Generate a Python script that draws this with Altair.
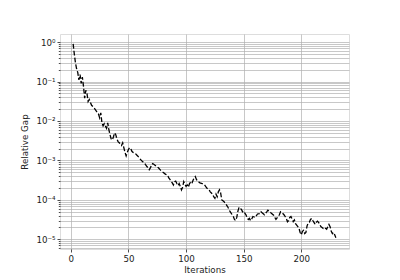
import altair as alt
import pandas as pd

iterations = [2, 3, 4, 5, 6, 7, 8, 9, 10, 11, 12, 13, 14, 15, 16, 18, 20, 22, 24, 25,
              26, 27, 28, 29, 31, 32, 33, 34, 35, 36, 37, 38, 39, 40, 41, 42, 43, 44, 45, 46,
              47, 48, 49, 50, 51, 52, 53, 54, 56, 58, 60, 62, 64, 66, 67, 68, 69, 70, 71, 72,
              74, 76, 78, 80, 82, 84, 85, 86, 87, 88, 89, 90, 91, 92, 93, 94, 95, 96, 97, 98,
              99, 100, 101, 102, 103, 104, 105, 106, 107, 108, 109, 110, 112, 114, 116, 118, 120, 121, 122, 123,
              124, 125, 126, 127, 128, 129, 130, 131, 132, 133, 134, 136, 138, 140, 141, 142, 143, 144, 145, 146,
              147, 148, 149, 150, 151, 152, 153, 154, 155, 156, 157, 158, 160, 162, 164, 165, 166, 168, 170, 171,
              172, 174, 176, 177, 178, 179, 181, 182, 183, 185, 186, 187, 188, 189, 190, 191, 192, 193, 194, 195,
              196, 197, 198, 199, 200, 201, 202, 203, 204, 205, 206, 207, 208, 209, 210, 211, 212, 213, 214, 215,
              216, 217, 218, 219, 220, 221, 222, 223, 224, 225, 226, 227, 228, 229, 230]

relative_gap = [0.9, 0.5, 0.3, 0.21, 0.17, 0.11, 0.15, 0.09, 0.13, 0.075, 0.038, 0.06, 0.05, 0.031, 0.035, 0.025, 0.022, 0.018, 0.015, 0.012,
                0.016, 0.009, 0.0075, 0.0085, 0.0065, 0.009, 0.006, 0.0045, 0.0035, 0.0033, 0.004, 0.005, 0.0045, 0.0035, 0.003, 0.0028, 0.0026, 0.0024, 0.0028, 0.0021,
                0.0016, 0.0013, 0.0016, 0.0019, 0.0021, 0.002, 0.0017, 0.0016, 0.0015, 0.0013, 0.0011, 0.00095, 0.00085, 0.0007, 0.00065, 0.00058, 0.00065, 0.00075, 0.00083, 0.0008,
                0.00072, 0.00065, 0.00056, 0.0005, 0.00045, 0.00042, 0.00036, 0.00033, 0.0003, 0.00027, 0.00024, 0.00029, 0.0003, 0.00026, 0.00023, 0.00026, 0.00022, 0.00018, 0.00021, 0.00029,
                0.00025, 0.00022, 0.00024, 0.00021, 0.00026, 0.00028, 0.00026, 0.00031, 0.00036, 0.00039, 0.00033, 0.0003, 0.00027, 0.00026, 0.00024, 0.0002, 0.00018, 0.00016, 0.00015, 0.00014,
                0.00012, 0.00011, 0.00014, 0.00012, 0.00016, 0.00018, 0.00015, 0.0001, 0.000095, 0.00009, 0.000082, 0.000068, 0.000052, 0.000042, 0.000038, 0.000032, 0.00003, 0.000036, 0.000052, 0.000065,
                0.00006, 0.000058, 0.00005, 0.000052, 0.000046, 0.000042, 0.000035, 0.000032, 0.000034, 0.00003, 0.000033, 0.000038, 0.000036, 0.000044, 0.000045, 0.00005, 0.000047, 0.000042, 0.00005, 0.000055,
                0.000052, 0.000046, 0.000041, 0.000036, 0.000032, 0.000035, 0.000042, 0.00005, 0.000048, 0.000042, 0.000038, 0.000034, 0.000028, 0.00003, 0.000036, 0.000038, 0.000033, 0.000028, 0.000031, 0.000025,
                0.000023, 0.000021, 0.000019, 0.000015, 0.000013, 0.000016, 0.000017, 0.000014, 0.000015, 0.000022, 0.000026, 0.000027, 0.000032, 0.000034, 0.00003, 0.000027, 0.000024, 0.000027, 0.000029, 0.000027,
                0.000024, 0.000021, 0.00002, 0.000019, 0.00002, 0.000019, 0.000018, 0.000021, 0.000024, 0.000021, 0.000016, 0.000014, 0.000015, 0.000013, 0.000011]

x_ticks = [0, 50, 100, 150, 200]
y_major_exponents = [0, -1, -2, -3, -4, -5]
sup = {"0": "⁰", "1": "¹", "2": "²", "3": "³", "4": "⁴", "5": "⁵", "-": "⁻"}

df = pd.DataFrame({"Iterations": iterations, "Relative Gap": relative_gap})

y_lo, y_hi = 5.7e-6, 1.6
y_values = []
for e in range(-6, 1):
    for k in range(1, 10):
        v = k * 10.0 ** e
        if y_lo <= v <= y_hi:
            y_values.append(v)

E = "round(log(datum.value)/LN10)"
major_test = f"abs(datum.value/pow(10,{E})-1)<1e-6"
chain = ""
for e in y_major_exponents:
    s = "10" + "".join(sup[c] for c in str(e))
    chain += f"{E}=={e} ? '{s}' : "
chain += "''"
label_expr = f"{major_test} ? ({chain}) : ''"

FONT = "DejaVu Sans"
FS = 8.7

chart = alt.Chart(df).mark_line(
    color="black", strokeWidth=1.3, strokeDash=[4.8, 2.1], clip=True
).encode(
    x=alt.X("Iterations:Q",
            scale=alt.Scale(domain=[-9.4, 241.4], nice=False, zero=False),
            axis=alt.Axis(values=x_ticks, title="Iterations", format="d",
                          grid=True, gridColor="#b0b0b0", gridWidth=0.7,
                          domain=False, tickColor="black", tickSize=3, tickWidth=0.7,
                          labelPadding=2, labelFont=FONT, labelFontSize=FS, labelColor="#222222",
                          titleFont=FONT, titleFontSize=FS, titleFontWeight="normal",
                          titleColor="#222222", titlePadding=3)),
    y=alt.Y("Relative Gap:Q",
            scale=alt.Scale(type="log", domain=[y_lo, y_hi], nice=False),
            axis=alt.Axis(values=y_values, title="Relative Gap", labelExpr=label_expr,
                          grid=True, gridColor="#b0b0b0", gridWidth=0.7,
                          domain=False, tickColor="black", tickWidth=0.7,
                          tickSize={"condition": {"test": major_test, "value": 3}, "value": 1.7},
                          labelPadding=2, labelFont=FONT, labelFontSize=FS, labelColor="#222222",
                          labelOverlap=False, labelBound=False, labelFlush=False,
                          titleFont=FONT, titleFontSize=FS, titleFontWeight="normal",
                          titleColor="#222222", titlePadding=6)),
).properties(
    width=289, height=215,
    autosize=alt.AutoSizeParams(type="none"),
    padding={"left": 60, "top": 34, "right": 51, "bottom": 31},
).configure_view(
    stroke="black", strokeWidth=0.8
).configure(background="white")

chart.save("out.html", embed_options={"renderer": "svg", "actions": False})
